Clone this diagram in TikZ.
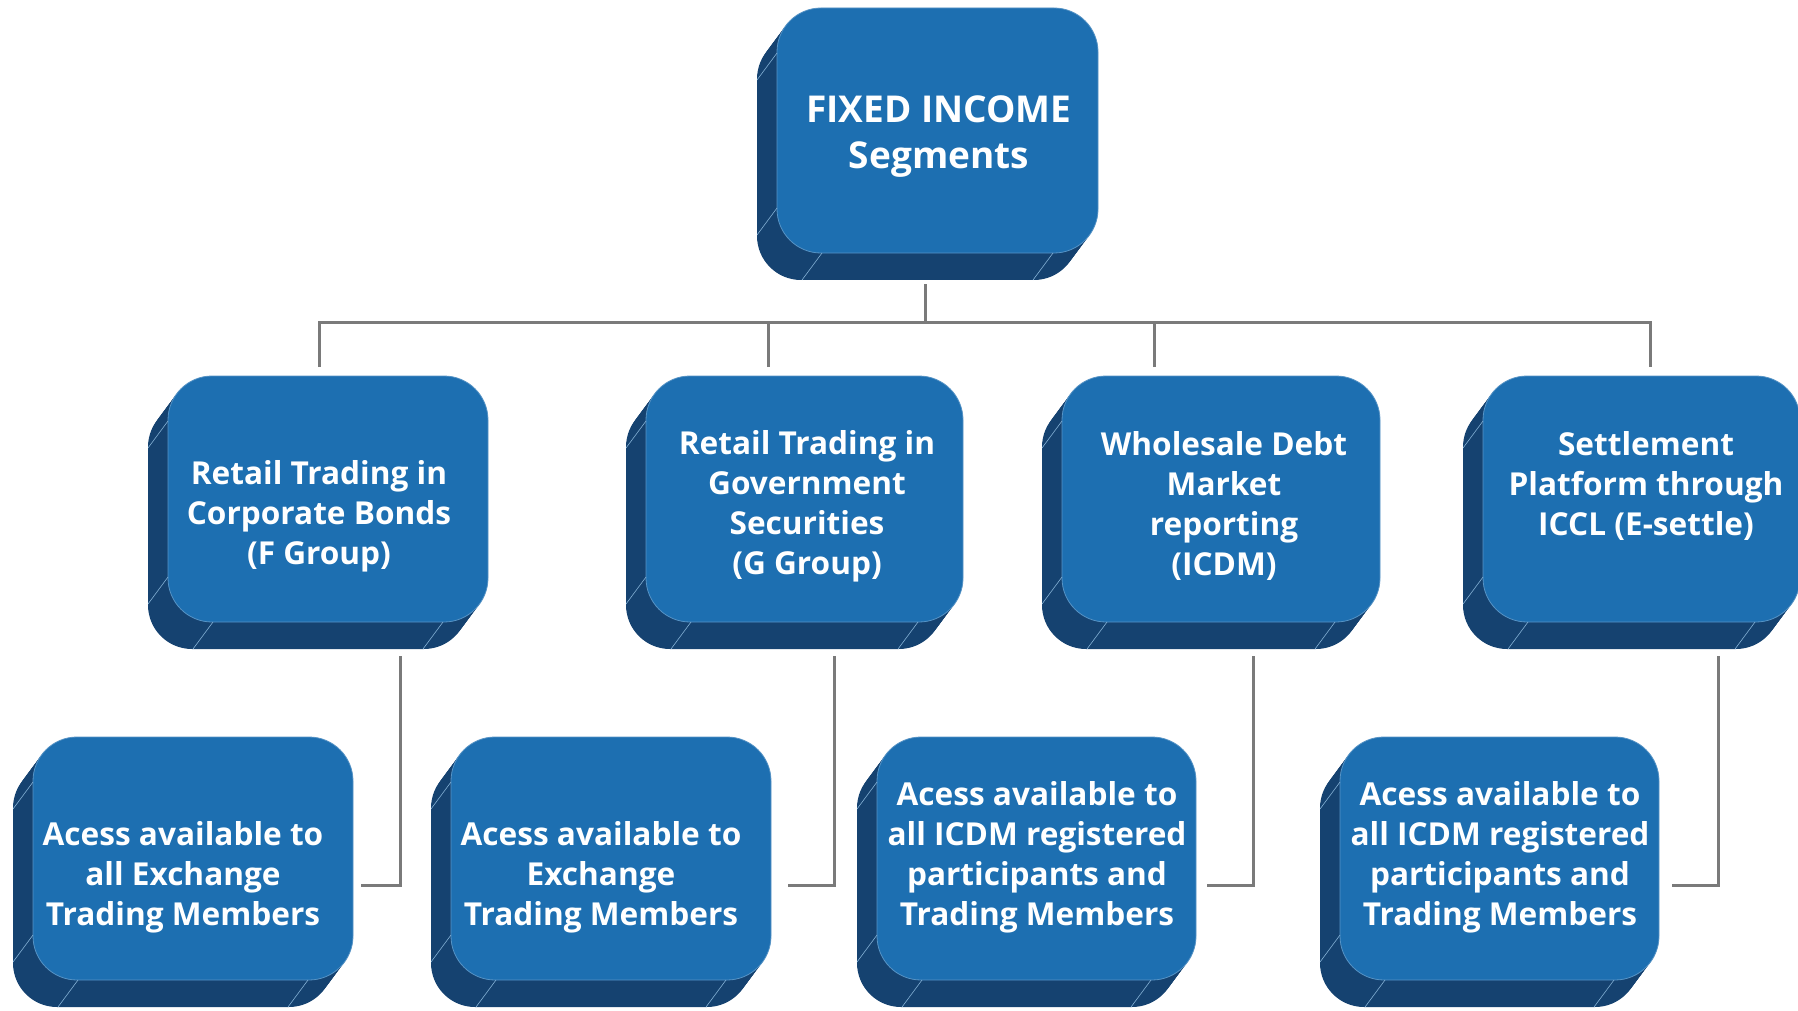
\documentclass[tikz,border=0pt]{standalone}
\usepackage{fontspec}
\setmainfont{Open Sans}
\definecolor{front}{RGB}{29,111,177}
\definecolor{dark}{RGB}{21,66,112}
\definecolor{conn}{RGB}{122,122,122}
\tikzset{
  frontbox/.style={rectangle, rounded corners=22pt, fill=front, draw=front!75!white, line width=0.4pt, inner sep=0pt},
  edgeln/.style={draw=front!55!white, line width=0.3pt},
  conline/.style={draw=conn, line width=1.5pt},
  lbl/.style={text=white, align=center, font=\bfseries\fontsize{15.8}{20}\selectfont},
  toplbl/.style={text=white, align=center, font=\bfseries\fontsize{18.5}{23}\selectfont},
}
\newcommand\myextbox[5]{%
  \foreach \t in {0.1,0.2,...,1.0}{\fill[dark, rounded corners=22pt] ({#2-20*\t},{#3+27*\t}) rectangle ({#4-20*\t},{#5+27*\t});}
  \node[frontbox, minimum width={(#4-#2)*0.5pt}, minimum height={(#5-#3)*0.5pt}] (#1) at ({(#2+#4)/2},{(#3+#5)/2}) {};
  \foreach \a/\b in {#2/#3+45, #2/#5-45, #2+45/#5, #4-45/#5}{\draw[edgeln] (\a,\b) -- ++(-20,27);}
}
\begin{document}
\begin{tikzpicture}[x=0.5pt,y=-0.5pt]
\useasboundingbox (0,0) rectangle (1798,1011);
% boxes
\myextbox{top}{777}{8}{1098}{253}
\myextbox{m1}{168}{376}{488}{622}
\myextbox{m2}{646}{376}{963}{622}
\myextbox{m3}{1062}{376}{1380}{622}
\myextbox{m4}{1483}{376}{1800}{622}
\myextbox{b1}{33}{737}{353}{980}
\myextbox{b2}{451}{737}{771}{980}
\myextbox{b3}{877}{737}{1196}{980}
\myextbox{b4}{1340}{737}{1659}{980}
% labels
\node[toplbl] (t0) at (939,137) {FIXED INCOME\\Segments};
\node[lbl] (t1) at (319,516) {Retail Trading in\\Corporate Bonds\\(F Group)};
\node[lbl] (t2) at (807,506) {Retail Trading in\\Government\\Securities\\(G Group)};
\node[lbl] (t3) at (1224,506) {Wholesale Debt\\Market\\reporting\\(ICDM)};
\node[lbl] (t4) at (1646,486) {Settlement\\Platform through\\ICCL (E-settle)};
\node[lbl] (t5) at (183,877) {Acess available to\\all Exchange\\Trading Members};
\node[lbl] (t6) at (601,877) {Acess available to\\Exchange\\Trading Members};
\node[lbl] (t7) at (1037,857) {Acess available to\\all ICDM registered\\participants and\\Trading Members};
\node[lbl] (t8) at (1500,857) {Acess available to\\all ICDM registered\\participants and\\Trading Members};
% connector coordinates
\coordinate (ts) at (925,284);
\coordinate (tj) at (925,322);
\coordinate (d1) at (319,367);
\coordinate (d2) at (768,367);
\coordinate (d3) at (1154,367);
\coordinate (d4) at (1650,367);
\coordinate (s1) at (400,656); \coordinate (e1) at (361,885);
\coordinate (s2) at (834,656); \coordinate (e2) at (788,885);
\coordinate (s3) at (1253,656); \coordinate (e3) at (1207,885);
\coordinate (s4) at (1718,656); \coordinate (e4) at (1672,885);
% connectors
\draw[conline] (ts) -- (tj);
\draw[conline] (d1) |- (tj) -| (d4);
\draw[conline] (d2) -- (d2 |- tj);
\draw[conline] (d3) -- (d3 |- tj);
\draw[conline] (s1) |- (e1);
\draw[conline] (s2) |- (e2);
\draw[conline] (s3) |- (e3);
\draw[conline] (s4) |- (e4);
\end{tikzpicture}
\end{document}
